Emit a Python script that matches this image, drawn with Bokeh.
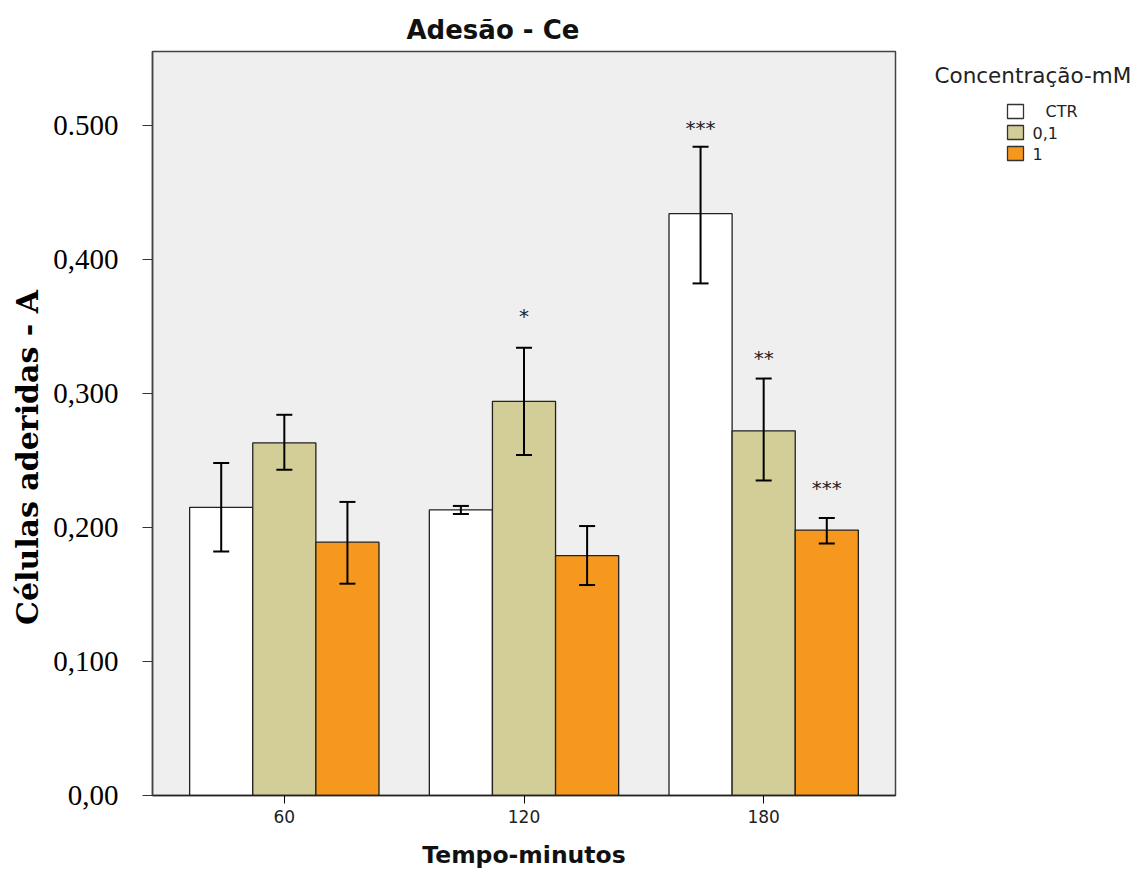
from bokeh.plotting import figure
from bokeh.layouts import row
from bokeh.models import (Range1d, FixedTicker, Whisker, TeeHead, ColumnDataSource)
from bokeh.embed import file_html
from bokeh.resources import INLINE
from bokeh.core.properties import value

# Data: adhered cells (absorbance) per time and Ce concentration
times = [60, 120, 180]
time_labels = ["60", "120", "180"]
groups = ["CTR", "0,1", "1"]

ctr_mean = [0.215, 0.213, 0.434]
ctr_low = [0.182, 0.210, 0.382]
ctr_high = [0.248, 0.216, 0.484]

c01_mean = [0.263, 0.294, 0.272]
c01_low = [0.243, 0.254, 0.235]
c01_high = [0.284, 0.334, 0.311]

c1_mean = [0.189, 0.179, 0.198]
c1_low = [0.158, 0.157, 0.188]
c1_high = [0.219, 0.201, 0.207]

# significance marks: (series index, time index, text)
stars = [(0, 2, "***"), (1, 1, "*"), (1, 2, "**"), (2, 2, "***")]
star_lift_px = [19, 32, 21, 30]

y_ticks = [0.0, 0.1, 0.2, 0.3, 0.4, 0.5]
y_tick_labels = ["0,00", "0,100", "0,200", "0,300", "0,400", "0.500"]

legend_title = "Concentração-mM"
y_title = "Células aderidas - A"

colors = ["#FFFFFF", "#D3CE97", "#F7981E"]
bar_w = 15.8
offsets = [-bar_w, 0.0, bar_w]

H = 872
FRAME_TOP = 51
FRAME_BOTTOM = 795
LEFT_W = 50
MAIN_W = 847
RIGHT_W = 1136 - LEFT_W - MAIN_W


def blank_panel(w):
    # side panel whose frame lines up with the main chart; y is in page pixels
    f = figure(width=w, height=H, output_backend="svg", toolbar_location=None,
               x_range=Range1d(0, w), y_range=Range1d(FRAME_BOTTOM, FRAME_TOP),
               x_axis_type=None, y_axis_type=None, min_border=0)
    f.outline_line_color = None
    f.grid.visible = False
    f.background_fill_color = "white"
    f.border_fill_color = "white"
    return f


# ---- main chart ----
p = figure(width=MAIN_W, height=H, output_backend="svg", toolbar_location=None,
           x_range=Range1d(27, 213), y_range=Range1d(0, 0.555),
           min_border_left=152 - LEFT_W, min_border_right=2,
           min_border_top=FRAME_TOP, min_border_bottom=H - FRAME_BOTTOM)

p.background_fill_color = "#EFEFEF"
p.border_fill_color = "white"
p.outline_line_color = "#444444"
p.outline_line_width = 1.5
p.xgrid.visible = False
p.ygrid.visible = False

p.title.text = "Adesão - Ce"
p.title.text_font = "DejaVu Sans"
p.title.text_font_size = "26px"
p.title.text_font_style = "bold"
p.title.text_color = "#111111"
p.title.align = "left"
p.title.offset = 254
p.title.standoff = 14

series = [(ctr_mean, ctr_low, ctr_high), (c01_mean, c01_low, c01_high),
          (c1_mean, c1_low, c1_high)]
for i, (m, lo, hi) in enumerate(series):
    xs = [t + offsets[i] for t in times]
    src = ColumnDataSource(dict(x=xs, top=m, lower=lo, upper=hi))
    p.vbar(x="x", top="top", bottom=0, width=bar_w, source=src,
           fill_color=colors[i], line_color="#222222", line_width=1.3)
    w = Whisker(base="x", lower="lower", upper="upper", source=src,
                line_color="black", line_width=2, level="overlay",
                upper_head=TeeHead(size=16, line_width=2, line_color="black"),
                lower_head=TeeHead(size=16, line_width=2, line_color="black"))
    p.add_layout(w)

# asterisks above the error bars
sx, sy, st, soff = [], [], [], []
for (si, ti, txt), lift in zip(stars, star_lift_px):
    sx.append(times[ti] + offsets[si])
    sy.append(series[si][2][ti])
    st.append(txt)
    soff.append(-lift)
p.text(x=sx, y=sy, text=st, y_offset=soff, text_align="center",
       text_baseline="middle", text_font=value("DejaVu Sans"),
       text_font_size="20px", text_color="#222222")

# axes
p.yaxis.ticker = FixedTicker(ticks=y_ticks)
p.yaxis.major_label_overrides = {t: l for t, l in zip(y_ticks, y_tick_labels)}
p.yaxis.major_label_text_font = "Liberation Serif"
p.yaxis.major_label_text_font_size = "29px"
p.yaxis.major_label_text_color = "black"
p.yaxis.major_tick_out = 10
p.yaxis.major_tick_in = 0
p.yaxis.minor_tick_line_color = None
p.yaxis.major_label_standoff = 24
p.yaxis.axis_line_color = "#444444"
p.yaxis.axis_line_width = 1.5
p.yaxis.major_tick_line_color = "#333333"

p.xaxis.ticker = FixedTicker(ticks=times)
p.xaxis.major_label_overrides = {t: l for t, l in zip(times, time_labels)}
p.xaxis.major_label_text_font = "DejaVu Sans"
p.xaxis.major_label_text_font_size = "17px"
p.xaxis.major_label_text_color = "#222222"
p.xaxis.major_tick_out = 8
p.xaxis.major_tick_in = 0
p.xaxis.minor_tick_line_color = None
p.xaxis.major_label_standoff = 6
p.xaxis.axis_line_color = "#222222"
p.xaxis.axis_line_width = 1.5
p.xaxis.axis_label = "Tempo-minutos"
p.xaxis.axis_label_text_font = "DejaVu Sans"
p.xaxis.axis_label_text_font_size = "23.5px"
p.xaxis.axis_label_text_font_style = "bold"
p.xaxis.axis_label_text_color = "#111111"
p.xaxis.axis_label_standoff = 15

# ---- y axis title panel ----
left = blank_panel(LEFT_W)
left.text(x=[27], y=[457], text=[y_title], angle=1.5708,
          text_align="center", text_baseline="middle",
          text_font=value("DejaVu Serif"), text_font_size="30px",
          text_font_style="bold", text_color="black")

# ---- legend panel ----
right = blank_panel(RIGHT_W)
right.text(x=[37], y=[75], text=[legend_title], text_align="left",
           text_baseline="middle", text_font=value("DejaVu Sans"),
           text_font_size="21.5px", text_color="#222222")
leg_x = [118, 118, 118]
leg_y = [111, 132, 153]
right.rect(x=leg_x, y=leg_y, width=16, height=14, fill_color=colors,
           line_color="#333333", line_width=1.3)
right.text(x=[148, 135, 135], y=leg_y, text=groups, text_align="left",
           text_baseline="middle", text_font=value("DejaVu Sans"),
           text_font_size="16px", text_color="#222222")

layout = row(left, p, right, spacing=0)
open("out.html", "w").write(file_html(layout, INLINE))
